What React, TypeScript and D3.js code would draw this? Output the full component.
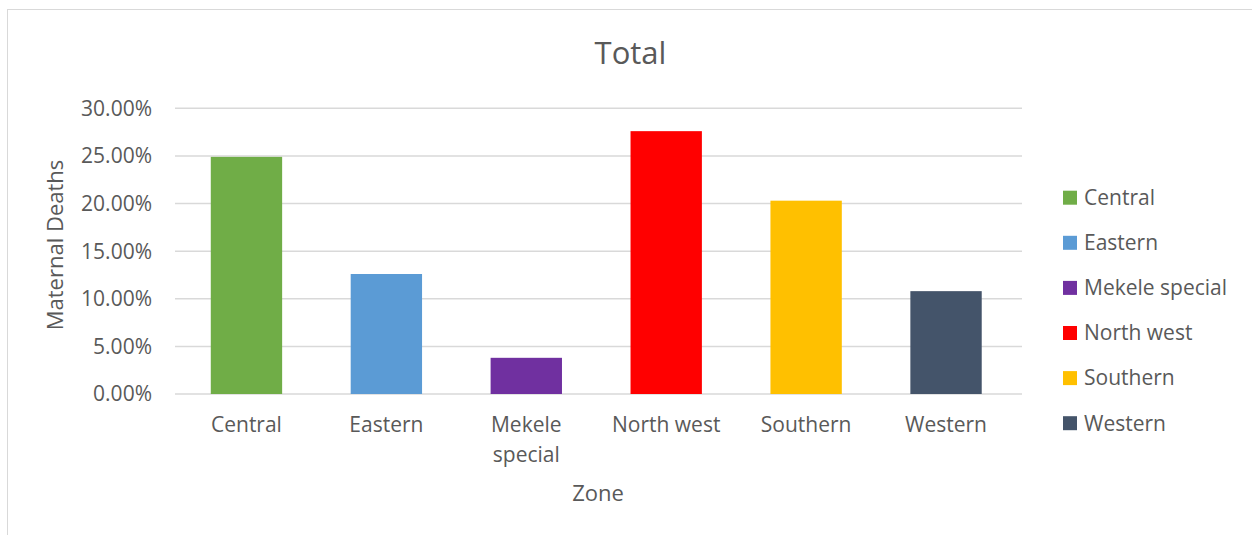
import React from "react";
import * as d3 from "d3";

const zones = ["Central", "Eastern", "Mekele special", "North west", "Southern", "Western"];
const zoneLines = [["Central"], ["Eastern"], ["Mekele", "special"], ["North west"], ["Southern"], ["Western"]];
const values = [0.249, 0.126, 0.038, 0.276, 0.203, 0.108];
const colors = ["#70AD47", "#5B9BD5", "#7030A0", "#FF0000", "#FFC000", "#44546A"];
const yTicks = [0, 0.05, 0.1, 0.15, 0.2, 0.25, 0.3];

const W = 1252;
const H = 535;
const FONT = "'Open Sans', sans-serif";
const TXT = "#595959";

export default function App() {
  const x = d3.scaleBand<string>().domain(zones).range([176.5, 1016]).paddingInner(0.49).paddingOuter(0.245);
  const y = d3.scaleLinear().domain([0, 0.3]).range([394, 108.3]);
  const fmt = (v: number) => (v * 100).toFixed(2) + "%";
  const gridX0 = 175;
  const gridX1 = 1022;
  return (
    <svg width={W} height={H} style={{ position: "absolute", left: 0, top: 0, display: "block" }}>
      <rect x={0} y={0} width={W} height={H} fill="#fff" />
      <rect x={7.5} y={9.5} width={W + 10} height={H + 10} fill="#fff" stroke="#d9d9d9" strokeWidth={1} />
      <text x={630.5} y={64} textAnchor="middle" fontFamily={FONT} fontSize={31} fill={TXT}>Total</text>
      {yTicks.map((t) => (
        <g key={t}>
          <line x1={gridX0} x2={gridX1} y1={y(t)} y2={y(t)} stroke="#d9d9d9" strokeWidth={1.5} />
          <text x={152} y={y(t)} dy="0.35em" textAnchor="end" fontFamily={FONT} fontSize={21} fill={TXT}>{fmt(t)}</text>
        </g>
      ))}
      {zones.map((z, i) => (
        <rect key={z} x={x(z)} y={y(values[i])} width={x.bandwidth()} height={y(0) - y(values[i])} fill={colors[i]} />
      ))}
      {zones.map((z, i) => (
        <text key={z} x={(x(z) as number) + x.bandwidth() / 2} y={432} textAnchor="middle" fontFamily={FONT} fontSize={21} fill={TXT}>
          {zoneLines[i].map((l, j) => (
            <tspan key={j} x={(x(z) as number) + x.bandwidth() / 2} dy={j === 0 ? 0 : 30}>{l}</tspan>
          ))}
        </text>
      ))}
      <text x={598} y={501} textAnchor="middle" fontFamily={FONT} fontSize={22} fill={TXT}>Zone</text>
      <text transform={`translate(63,245) rotate(-90)`} textAnchor="middle" fontFamily={FONT} fontSize={22} fill={TXT}>Maternal Deaths</text>
      {zones.map((z, i) => {
        const cy = 197.7 + i * 45.1;
        return (
          <g key={z}>
            <rect x={1063} y={cy - 7} width={14} height={14} fill={colors[i]} />
            <text x={1084} y={cy} dy="0.35em" fontFamily={FONT} fontSize={21} fill={TXT}>{z}</text>
          </g>
        );
      })}
    </svg>
  );
}
